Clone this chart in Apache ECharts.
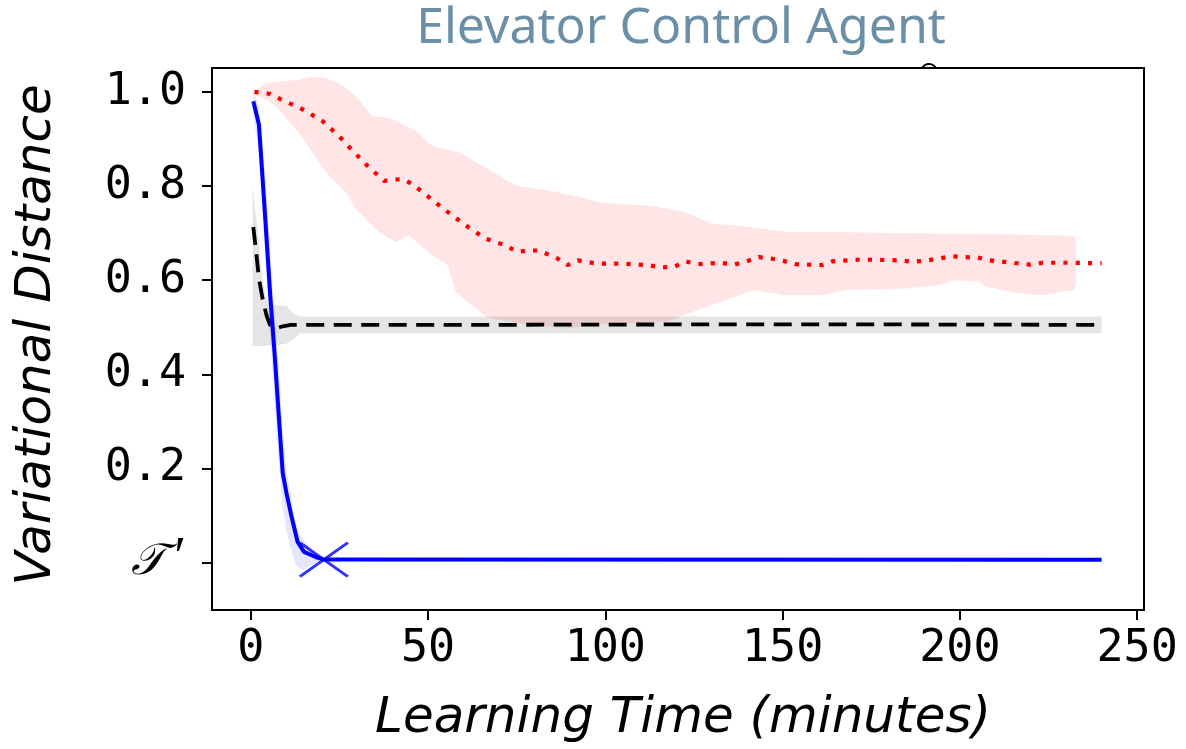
<!DOCTYPE html>
<html lang="en">
<head>
    <meta charset="UTF-8">
    <script src="https://cdn.jsdelivr.net/npm/echarts@6/dist/echarts.min.js"></script>
    <title>Elevator Control Agent</title>
    <style>
        html, body { margin: 0; padding: 0; background: #fff; }
    </style>
</head>
<body>
    <div id="main" style="width: 1186px; height: 749px;"></div>
    <script>
        // tick values
        var xTicks = [0, 50, 100, 150, 200, 250];
        var yTicks = [0, 0.2, 0.4, 0.6, 0.8, 1.0];
        var yTickLabels = ['𝒯′', '0.2', '0.4', '0.6', '0.8', '1.0'];

        // blue solid line (t in minutes, distance)
        var blueLine = [
            [0.7, 0.98], [1.5, 0.955], [2.3, 0.93], [4, 0.74], [5.5, 0.565], [6.8, 0.434],
            [8, 0.3], [9, 0.19], [10.1, 0.146], [11.3, 0.104], [13.2, 0.044], [15, 0.023],
            [18.3, 0.012], [20.6, 0.0065], [240, 0.0063]
        ];
        var blueUpper = [
            [0.7, 1.0], [2.3, 0.97], [4, 0.83], [5.5, 0.66], [7, 0.5], [8, 0.4], [9, 0.28],
            [10, 0.2], [11.3, 0.14], [12.5, 0.09], [13.2, 0.07], [15, 0.045], [17, 0.03],
            [19, 0.015], [21, 0.009], [240, 0.009]
        ];
        var blueLower = [
            [0.7, 0.95], [2.3, 0.87], [4, 0.65], [5.5, 0.48], [7, 0.3], [8, 0.2], [9, 0.12],
            [10, 0.07], [11.3, 0.03], [12.5, 0.0], [13.2, -0.01], [15, -0.015], [17, -0.005],
            [19, 0.002], [21, 0.004], [240, 0.004]
        ];
        var blueMark = [[20.6, 0.0065]];

        // black dashed line
        var blackLine = [
            [0.7, 0.713], [1.5, 0.66], [2.3, 0.603], [3.3, 0.561], [4.4, 0.526], [5.4, 0.505],
            [7, 0.497], [9, 0.502], [11.3, 0.505], [60, 0.505], [120, 0.506], [180, 0.506], [240, 0.505]
        ];
        var greyUpper = [
            [0.5, 0.80], [2, 0.70], [3, 0.62], [4, 0.57], [5, 0.55], [7, 0.546], [10, 0.545],
            [12, 0.53], [14, 0.523], [240, 0.523]
        ];
        var greyLower = [
            [0.5, 0.46], [2, 0.46], [3, 0.46], [4, 0.46], [5, 0.462], [7, 0.462], [10, 0.465],
            [12, 0.475], [14, 0.487], [240, 0.487]
        ];

        // red dotted line
        var redLine = [
            [1, 1.0], [5.2, 0.996], [8.5, 0.984], [14.6, 0.963], [20.2, 0.938], [24.9, 0.906],
            [28.7, 0.875], [32.9, 0.843], [37.6, 0.811], [42.8, 0.815], [45.6, 0.804], [50.3, 0.776],
            [55, 0.748], [60.7, 0.716], [66.3, 0.688], [71.9, 0.674], [75.2, 0.66], [78, 0.663],
            [81.3, 0.663], [86.5, 0.646], [89.3, 0.632], [92.2, 0.642], [97.8, 0.635], [105.2, 0.635],
            [112.1, 0.632], [115.6, 0.627], [119.6, 0.629], [122.5, 0.64], [126, 0.634], [132.4, 0.637],
            [136.3, 0.633], [139.8, 0.64], [143.3, 0.649], [146.7, 0.646], [150.2, 0.641], [153.7, 0.634],
            [161.1, 0.632], [164.1, 0.64], [172, 0.644], [183.3, 0.642], [186.8, 0.639], [190.7, 0.642],
            [194.2, 0.646], [197.7, 0.651], [201.1, 0.649], [205.1, 0.648], [208.5, 0.642], [212.5, 0.639],
            [216, 0.636], [219.9, 0.633], [223.4, 0.637], [226.9, 0.637], [230.8, 0.637], [240, 0.636]
        ];
        var redUpper = [
            [1, 1.0], [4.2, 1.019], [8, 1.022], [13.6, 1.026], [17.4, 1.032], [21, 1.03], [24.9, 1.019],
            [29.6, 0.991], [34.3, 0.948], [39, 0.945], [46.6, 0.917], [51.2, 0.885], [58.8, 0.871],
            [66.3, 0.839], [74.8, 0.801], [84.2, 0.79], [91.7, 0.779], [98.3, 0.765], [104.2, 0.762],
            [113.1, 0.758], [123, 0.744], [130, 0.72], [137.8, 0.716], [150.7, 0.703], [167.5, 0.702],
            [192.2, 0.699], [217, 0.697], [232.3, 0.694], [232.8, 0.68]
        ];
        var redLower = [
            [1, 0.995], [4, 0.985], [7, 0.97], [13.6, 0.913], [21.2, 0.829], [26.8, 0.787], [29.6, 0.751],
            [36.2, 0.702], [40.9, 0.681], [44.7, 0.695], [51.2, 0.653], [55.5, 0.632], [57.8, 0.575],
            [63.5, 0.54], [67.2, 0.519], [79.5, 0.505], [88.9, 0.498], [98.3, 0.506], [118, 0.512],
            [122, 0.526], [130, 0.547], [137.8, 0.568], [141.8, 0.579], [150.7, 0.568], [161.6, 0.568],
            [167.5, 0.579], [184.3, 0.582], [194.2, 0.589], [198.2, 0.6], [205.1, 0.597], [207.1, 0.586],
            [217, 0.572], [222.9, 0.568], [232.3, 0.579], [232.8, 0.6]
        ];

        // shaded band between two edges, drawn once through the axis scales
        function band(upper, lower, color, z) {
            return {
                type: 'custom',
                silent: true,
                clip: true,
                z: z,
                data: [upper[0]],
                renderItem: function (params, api) {
                    var pts = upper.map(function (p) { return api.coord(p); });
                    var low = lower.slice().reverse();
                    for (var i = 0; i < low.length; i++) pts.push(api.coord(low[i]));
                    return { type: 'polygon', shape: { points: pts }, style: { fill: color } };
                }
            };
        }

        var myChart = echarts.init(document.getElementById('main'));
        var monoFont = 'DejaVu Sans Mono';

        var option = {
            animation: false,
            backgroundColor: '#fff',
            title: {
                text: 'Elevator Control Agent',
                left: 676,
                textAlign: 'center',
                top: -1,
                textStyle: {
                    fontFamily: 'Noto Sans',
                    fontWeight: 'normal',
                    fontSize: 50,
                    color: '#6b8fa7'
                }
            },
            // small stray mark above the frame
            graphic: [{
                type: 'arc',
                shape: { cx: 929, cy: 72, r: 8, startAngle: Math.PI * 1.2, endAngle: Math.PI * 1.8 },
                style: { stroke: '#000', lineWidth: 2, fill: null }
            }],
            grid: {
                left: 212,
                top: 68,
                width: 932,
                height: 545,
                show: true,
                borderColor: '#000',
                borderWidth: 2,
                backgroundColor: 'transparent'
            },
            xAxis: {
                type: 'value',
                min: -10.95,
                max: 251.95,
                name: 'Learning Time (minutes)',
                nameLocation: 'middle',
                nameGap: 84,
                nameTextStyle: {
                    fontFamily: 'DejaVu Sans',
                    fontStyle: 'italic',
                    fontSize: 50,
                    color: '#000',
                    padding: [0, 0, 0, 10]
                },
                axisLine: { show: true, onZero: false, lineStyle: { color: '#000', width: 2 } },
                axisTick: { show: true, customValues: xTicks, length: 10, lineStyle: { color: '#000', width: 2 } },
                axisLabel: {
                    customValues: xTicks,
                    margin: 17,
                    fontFamily: monoFont,
                    fontSize: 45,
                    color: '#000'
                },
                splitLine: { show: false }
            },
            yAxis: {
                type: 'value',
                min: -0.1006,
                max: 1.0507,
                name: 'Variational Distance',
                nameLocation: 'middle',
                nameGap: 150,
                nameTextStyle: {
                    fontFamily: 'DejaVu Sans',
                    fontStyle: 'italic',
                    fontSize: 50,
                    color: '#000',
                    padding: [0, 0, 0, 8]
                },
                axisLine: { show: true, onZero: false, lineStyle: { color: '#000', width: 2 } },
                axisTick: { show: true, customValues: yTicks, length: 10, lineStyle: { color: '#000', width: 2 } },
                axisLabel: {
                    customValues: yTicks,
                    margin: 26,
                    fontFamily: monoFont,
                    fontSize: 45,
                    color: '#000',
                    formatter: function (v) {
                        var i = yTicks.indexOf(Math.round(v * 10) / 10);
                        if (i === 0) {
                            var lab = Array.from(yTickLabels[0]);
                            return '{t|' + lab[0] + '}{p|' + lab[1] + '}';
                        }
                        return i >= 0 ? yTickLabels[i] : '';
                    },
                    rich: {
                        t: { fontFamily: 'DejaVu Serif', fontStyle: 'italic', fontSize: 44, color: '#000' },
                        p: { fontFamily: 'Liberation Serif', fontSize: 54, color: '#000', padding: [0, 0, 6, 9] }
                    }
                },
                splitLine: { show: false }
            },
            series: [
                band(redUpper, redLower, 'rgba(255,0,0,0.1)', 1),
                band(greyUpper, greyLower, 'rgba(0,0,0,0.1)', 1),
                band(blueUpper, blueLower, 'rgba(0,0,255,0.1)', 1),
                {
                    name: 'red', type: 'line', data: redLine, showSymbol: false, z: 3,
                    lineStyle: { color: '#ff0000', width: 4.2, type: [4.2, 8.1], cap: 'butt' }
                },
                {
                    name: 'black', type: 'line', data: blackLine, showSymbol: false, z: 4,
                    lineStyle: { color: '#000', width: 3.8, type: [18, 9.5], cap: 'butt' }
                },
                {
                    name: 'blue', type: 'line', data: blueLine, showSymbol: false, z: 5,
                    lineStyle: { color: '#0000ff', width: 4 }
                },
                {
                    name: 'mark', type: 'scatter', data: blueMark, z: 6,
                    symbol: 'path://M0,0L48,34M0,34L48,0',
                    symbolSize: [48, 34],
                    itemStyle: { color: 'none', borderColor: '#0000ff', borderWidth: 3 }
                }
            ]
        };
        myChart.setOption(option);
    </script>
</body>
</html>
